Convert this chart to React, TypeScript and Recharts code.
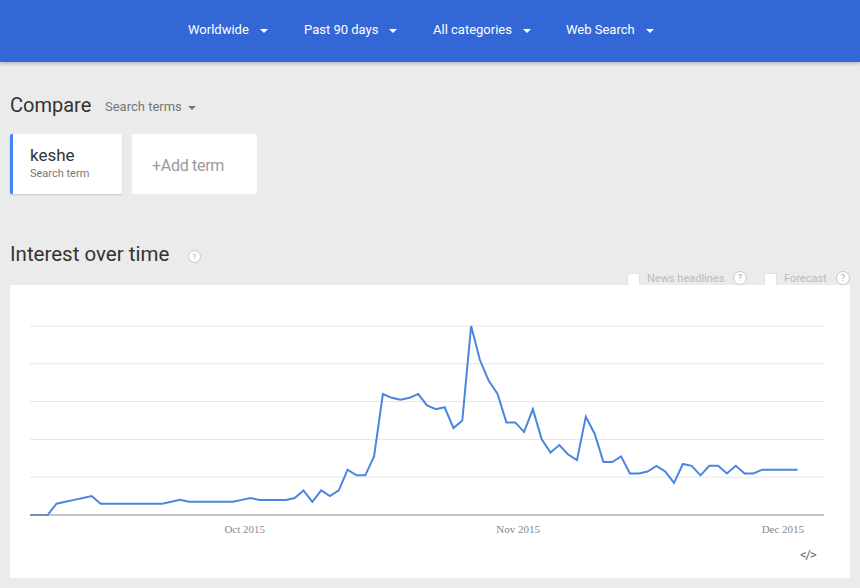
import React from 'react';
import { LineChart, Line, XAxis, YAxis, CartesianGrid } from 'recharts';

// daily interest for "keshe", starting Sep 7 2015 (index 0)
const interest = [
  0, 0, 0, 6, 7, 8, 9, 10, 6, 6,
  6, 6, 6, 6, 6, 6, 7, 8, 7, 7,
  7, 7, 7, 7, 8, 9, 8, 8, 8, 8,
  9, 13, 7, 13, 10, 13, 24, 21, 21, 31,
  64, 62, 61, 62, 64, 58, 56, 57, 46, 50,
  100, 82, 71, 64, 49, 49, 44, 56, 40, 33,
  37, 32, 29, 52, 43, 28, 28, 31, 22, 22,
  23, 26, 23, 17, 27, 26, 21, 26, 26, 22,
  26, 22, 22, 24, 24, 24, 24, 24,
];

const monthTicks = [24, 55, 85];
const monthLabels = ['Oct 2015', 'Nov 2015', 'Dec 2015'];
const gridValues = [0, 20, 40, 60, 80, 100];
const headerMenus = ['Worldwide', 'Past 90 days', 'All categories', 'Web Search'];
const headerX = [188, 304, 433, 566];

const chartData = interest.map((v, i) => ({ i, v }));

const font = 'Roboto, "Noto Sans", sans-serif';

function Caret({ color, gap }: { color: string; gap: number }) {
  return (
    <span style={{
      display: 'inline-block', width: 0, height: 0, marginLeft: gap, verticalAlign: 'middle',
      borderLeft: '4px solid transparent', borderRight: '4px solid transparent',
      borderTop: `4px solid ${color}`,
    }} />
  );
}

function Help({ x, y, size }: { x: number; y: number; size: number }) {
  return (
    <div style={{
      position: 'absolute', left: x, top: y, width: size, height: size, borderRadius: '50%',
      border: '1px solid #c8c8c8', boxSizing: 'border-box', background: '#fff',
      fontSize: size - 5, lineHeight: `${size - 2}px`, textAlign: 'center', color: '#aaa',
    }}>?</div>
  );
}

export default function App() {
  return (
    <div style={{
      position: 'fixed', left: 0, top: 0, width: 860, height: 588, overflow: 'hidden',
      background: '#ebebeb', fontFamily: font,
    }}>
      {/* top bar */}
      <div style={{
        position: 'absolute', left: 0, top: 0, width: 860, height: 62, background: '#3367d6',
        boxShadow: '0 2px 3px rgba(0,0,0,0.2)',
      }}>
        {headerMenus.map((m, k) => (
          <div key={m} style={{
            position: 'absolute', left: headerX[k], top: 21, fontSize: 13, color: '#fff',
            lineHeight: '17px', whiteSpace: 'nowrap',
          }}>
            {m}<Caret color="#fff" gap={11} />
          </div>
        ))}
      </div>

      {/* compare */}
      <div style={{ position: 'absolute', left: 10, top: 93, fontSize: 20, color: '#333', lineHeight: '25px' }}>
        Compare
      </div>
      <div style={{ position: 'absolute', left: 105, top: 98, fontSize: 13, color: '#777', lineHeight: '17px', whiteSpace: 'nowrap' }}>
        Search terms<Caret color="#777" gap={6} />
      </div>

      <div style={{
        position: 'absolute', left: 10, top: 134, width: 112, height: 60, background: '#fff',
        borderLeft: '3px solid #4285f4', boxSizing: 'border-box',
        boxShadow: '0 1px 2px rgba(0,0,0,0.15)', borderRadius: 2,
      }}>
        <div style={{ position: 'absolute', left: 17, top: 11, fontSize: 17, color: '#333' }}>keshe</div>
        <div style={{ position: 'absolute', left: 17, top: 33, fontSize: 11, color: '#777' }}>Search term</div>
      </div>
      <div style={{
        position: 'absolute', left: 132, top: 134, width: 125, height: 60, background: '#fff', borderRadius: 2,
      }}>
        <div style={{ position: 'absolute', left: 20, top: 22, fontSize: 16, color: '#9a9a9a', whiteSpace: 'nowrap', letterSpacing: -0.3 }}>
          +Add term
        </div>
      </div>

      {/* interest over time */}
      <div style={{ position: 'absolute', left: 10, top: 242, fontSize: 20.5, color: '#333', lineHeight: '25px' }}>
        Interest over time
      </div>
      <Help x={188} y={250} size={13} />

      <div style={{ position: 'absolute', left: 627, top: 273, width: 13, height: 13, background: '#fff', border: '1px solid #e2e2e2', boxSizing: 'border-box' }} />
      <div style={{ position: 'absolute', left: 647, top: 272, fontSize: 11, color: '#bbb', lineHeight: '14px' }}>News headlines</div>
      <Help x={733} y={271} size={14} />
      <div style={{ position: 'absolute', left: 764, top: 273, width: 13, height: 13, background: '#fff', border: '1px solid #e2e2e2', boxSizing: 'border-box' }} />
      <div style={{ position: 'absolute', left: 784, top: 272, fontSize: 11, color: '#bbb', lineHeight: '14px' }}>Forecast</div>
      <Help x={836} y={271} size={14} />

      {/* chart panel */}
      <div style={{ position: 'absolute', left: 10, top: 285, width: 840, height: 293, background: '#fff' }}>
        <LineChart width={840} height={293} data={chartData} margin={{ top: 41, right: 26, bottom: 33, left: 20 }}>
          <CartesianGrid vertical={false} stroke="#e6e6e6" horizontalValues={gridValues} />
          <YAxis hide type="number" domain={[0, 100]} ticks={gridValues} />
          <XAxis
            dataKey="i"
            type="number"
            domain={[0, 90]}
            ticks={monthTicks}
            tickFormatter={(t: number) => monthLabels[monthTicks.indexOf(t)]}
            height={30}
            axisLine={{ stroke: '#999' }}
            tickLine={false}
            tickMargin={4}
            dx={3}
            tick={{ fill: '#888', fontSize: 11, fontFamily: '"Liberation Serif", "DejaVu Serif", serif' }}
          />
          <Line
            type="linear"
            dataKey="v"
            stroke="#4a86e0"
            strokeWidth={2}
            dot={false}
            isAnimationActive={false}
          />
        </LineChart>
        <div style={{ position: 'absolute', left: 790, top: 262, fontSize: 13, color: '#666', letterSpacing: -1 }}>
          &lt;/&gt;
        </div>
      </div>
    </div>
  );
}
